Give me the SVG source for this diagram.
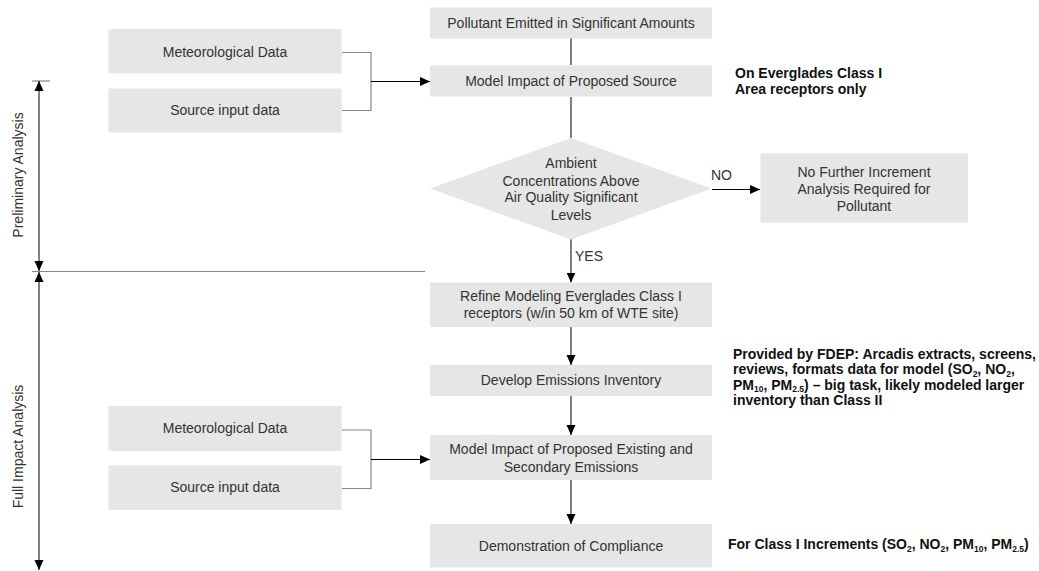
<svg xmlns="http://www.w3.org/2000/svg" width="1039" height="571" viewBox="0 0 1039 571">
<defs>
<marker id="ah" markerUnits="userSpaceOnUse" markerWidth="10" markerHeight="10" viewBox="0 0 10 10" refX="10" refY="5" orient="auto-start-reverse">
<path d="M0,0.5 L10,5 L0,9.5 Z" fill="#000"/>
</marker>
<style>
.box{fill:#e6e6e6;}
.t{font-family:"Liberation Sans",Arial,sans-serif;font-size:14px;fill:#333;text-anchor:middle;}
.b{font-family:"Liberation Sans",Arial,sans-serif;font-size:14px;font-weight:bold;fill:#111;}
.side{font-family:"Liberation Sans",Arial,sans-serif;font-size:14px;fill:#333;text-anchor:middle;}
.c{stroke:#000;stroke-width:1;fill:none;}
.g{stroke:#888;stroke-width:1.2;fill:none;}
.s{font-size:8.5px;}
</style>
</defs>
<rect width="1039" height="571" fill="#fff"/>

<g id="connectors">
<polyline class="g" points="342,52.5 371,52.5 371,110.5 342,110.5"/>
<line class="c" x1="371" y1="81.5" x2="430" y2="81.5" marker-end="url(#ah)"/>
<polyline class="g" points="342,430 371,430 371,488.5 342,488.5"/>
<line class="c" x1="371" y1="459.5" x2="430" y2="459.5" marker-end="url(#ah)"/>
<line class="c" x1="571" y1="38" x2="571" y2="65"/>
<line class="c" x1="571" y1="97" x2="571" y2="138"/>
<line class="c" x1="712" y1="189.5" x2="760" y2="189.5" marker-end="url(#ah)"/>
<line class="c" x1="571" y1="239" x2="571" y2="282.5" marker-end="url(#ah)"/>
<line class="c" x1="571" y1="327" x2="571" y2="365" marker-end="url(#ah)"/>
<line class="c" x1="571" y1="396" x2="571" y2="435" marker-end="url(#ah)"/>
<line class="c" x1="571" y1="480" x2="571" y2="524" marker-end="url(#ah)"/>
<line class="g" x1="32" y1="81" x2="50" y2="81"/>
<line class="g" x1="32" y1="271.5" x2="425" y2="271.5"/>
<line class="c" x1="39" y1="81" x2="39" y2="271" marker-start="url(#ah)" marker-end="url(#ah)"/>
<line class="c" x1="39" y1="272" x2="39" y2="570" marker-start="url(#ah)" marker-end="url(#ah)"/>
<text class="t" x="711" y="180" style="text-anchor:start">NO</text>
<text class="t" x="575" y="260.5" style="text-anchor:start">YES</text>
</g>

<g id="preliminary-label"><text class="side" transform="translate(22.5,175) rotate(-90)">Preliminary Analysis</text></g>
<g id="full-label"><text class="side" transform="translate(22.5,446.5) rotate(-90)">Full Impact Analysis</text></g>

<g id="met1"><rect class="box" x="108.5" y="29" width="233" height="44.5"/><text class="t" x="225" y="57.3">Meteorological Data</text></g>
<g id="src1"><rect class="box" x="108.5" y="88.5" width="233" height="44"/><text class="t" x="225" y="115">Source input data</text></g>
<g id="pollutant"><rect class="box" x="430" y="7.5" width="282" height="31"/><text class="t" x="571" y="28.3">Pollutant Emitted in Significant Amounts</text></g>
<g id="model1"><rect class="box" x="430" y="65.5" width="282" height="31"/><text class="t" x="571" y="86">Model Impact of Proposed Source</text></g>
<g id="note1"><text class="b" x="735" y="77.8">On Everglades Class I</text><text class="b" x="735" y="93.5">Area receptors only</text></g>
<g id="diamond"><polygon class="box" points="571,138 711.5,188.5 571,239.5 430,188.5"/>
<text class="t" x="571" y="168">Ambient</text>
<text class="t" x="571" y="185.7">Concentrations Above</text>
<text class="t" x="571" y="202.3">Air Quality Significant</text>
<text class="t" x="571" y="220">Levels</text></g>
<g id="nofurther"><rect class="box" x="760.5" y="153.5" width="207.5" height="69"/>
<text class="t" x="864" y="176.7">No Further Increment</text>
<text class="t" x="864" y="194.3">Analysis Required for</text>
<text class="t" x="864" y="210.7">Pollutant</text></g>
<g id="refine"><rect class="box" x="430" y="282.5" width="282" height="44.5"/>
<text class="t" x="571" y="301">Refine Modeling Everglades Class I</text>
<text class="t" x="571" y="318.3">receptors (w/in 50 km of WTE site)</text></g>
<g id="develop"><rect class="box" x="430" y="365" width="282" height="31"/><text class="t" x="571" y="385">Develop Emissions Inventory</text></g>
<g id="note2">
<text class="b" x="733" y="358.5">Provided by FDEP: Arcadis extracts, screens,</text>
<text class="b" x="733" y="374">reviews, formats data for model (SO<tspan class="s" dy="2.5">2</tspan><tspan dy="-2.5">, NO</tspan><tspan class="s" dy="2.5">2</tspan><tspan dy="-2.5">,</tspan></text>
<text class="b" x="733" y="389.5">PM<tspan class="s" dy="2.5">10</tspan><tspan dy="-2.5">, PM</tspan><tspan class="s" dy="2.5">2.5</tspan><tspan dy="-2.5">) – big task, likely modeled larger</tspan></text>
<text class="b" x="733" y="405">inventory than Class II</text></g>
<g id="met2"><rect class="box" x="108.5" y="406" width="233" height="45"/><text class="t" x="225" y="433.3">Meteorological Data</text></g>
<g id="src2"><rect class="box" x="108.5" y="465.5" width="233" height="44.5"/><text class="t" x="225" y="492.3">Source input data</text></g>
<g id="model2"><rect class="box" x="430" y="435" width="282" height="45"/>
<text class="t" x="571" y="454.3">Model Impact of Proposed Existing and</text>
<text class="t" x="571" y="471.7">Secondary Emissions</text></g>
<g id="demo"><rect class="box" x="430" y="524" width="282" height="43.5"/><text class="t" x="571" y="551">Demonstration of Compliance</text></g>
<g id="note3"><text class="b" x="728" y="549.3">For Class I Increments (SO<tspan class="s" dy="2.5">2</tspan><tspan dy="-2.5">, NO</tspan><tspan class="s" dy="2.5">2</tspan><tspan dy="-2.5">, PM</tspan><tspan class="s" dy="2.5">10</tspan><tspan dy="-2.5">, PM</tspan><tspan class="s" dy="2.5">2.5</tspan><tspan dy="-2.5">)</tspan></text></g>
</svg>
